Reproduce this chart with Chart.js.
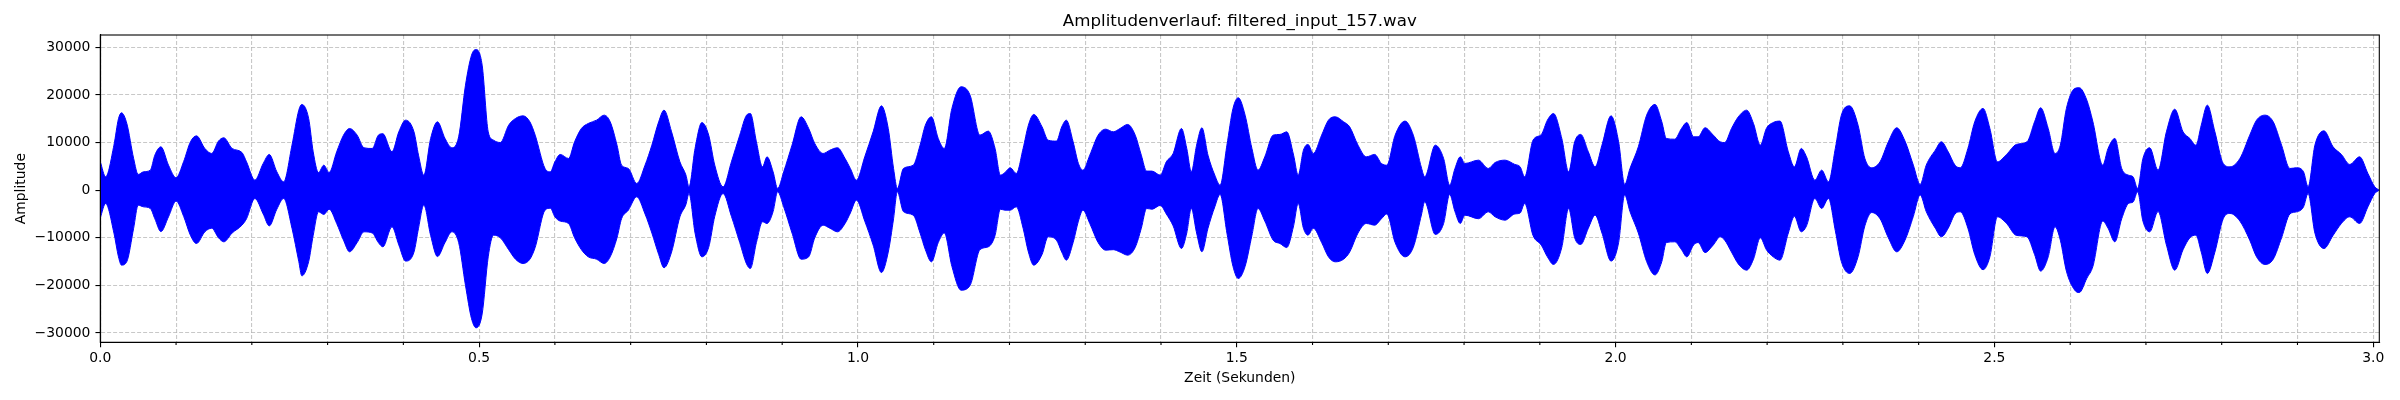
<!DOCTYPE html>
<html>
<head>
<meta charset="utf-8">
<title>Amplitudenverlauf</title>
<script src="https://cdn.jsdelivr.net/npm/chart.js@4.4.1/dist/chart.umd.min.js"></script>
<style>
  html, body { margin: 0; padding: 0; background: #fff; }
  #wrap { width: 2400px; height: 400px; }
</style>
</head>
<body>
<div id="wrap"><canvas id="wave" width="2400" height="400"></canvas></div>
<script>
// ================================================================ data
// envelope of the signal (seconds / amplitude)
const times = [
  0.000, 0.007, 0.018, 0.024, 0.028, 0.035, 0.044, 0.050, 0.057, 0.066,
  0.072, 0.080, 0.090, 0.100, 0.110, 0.119, 0.127, 0.138, 0.147, 0.156,
  0.163, 0.174, 0.187, 0.193, 0.204, 0.215, 0.223, 0.233, 0.242, 0.253,
  0.262, 0.266, 0.275, 0.281, 0.288, 0.295, 0.302, 0.312, 0.321, 0.329,
  0.339, 0.348, 0.359, 0.367, 0.373, 0.385, 0.394, 0.403, 0.414, 0.420,
  0.427, 0.436, 0.445, 0.455, 0.464, 0.473, 0.482, 0.490, 0.496, 0.504,
  0.512, 0.519, 0.528, 0.539, 0.548, 0.558, 0.567, 0.574, 0.587, 0.594,
  // 0.6 - 1.2
  0.600, 0.607, 0.618, 0.626, 0.635, 0.644, 0.655, 0.665, 0.673, 0.682,
  0.688, 0.697, 0.708, 0.719, 0.728, 0.737, 0.744, 0.754, 0.765, 0.773,
  0.777, 0.785, 0.794, 0.803, 0.811, 0.822, 0.833, 0.844, 0.853, 0.858,
  0.866, 0.874, 0.880, 0.888, 0.894, 0.902, 0.913, 0.925, 0.935, 0.943,
  0.954, 0.963, 0.973, 0.983, 0.990, 0.998, 1.009, 1.020, 1.031, 1.040,
  1.047, 1.052, 1.060, 1.073, 1.082, 1.089, 1.097, 1.106, 1.114, 1.124,
  1.136, 1.148, 1.161, 1.172, 1.181, 1.188, 1.194,
  // 1.2 - 1.8
  1.201, 1.209, 1.218, 1.225, 1.232, 1.243, 1.251, 1.262, 1.269, 1.275,
  1.284, 1.291, 1.297, 1.306, 1.317, 1.327, 1.337, 1.346, 1.356, 1.366,
  1.374, 1.381, 1.388, 1.399, 1.407, 1.416, 1.427, 1.434, 1.440, 1.447,
  1.454, 1.462, 1.471, 1.478, 1.487, 1.495, 1.502, 1.511, 1.520, 1.528,
  1.537, 1.548, 1.557, 1.566, 1.575, 1.581, 1.588, 1.594, 1.601, 1.612,
  1.621, 1.630, 1.641, 1.649, 1.660, 1.671, 1.682, 1.691, 1.698, 1.709,
  1.722, 1.733, 1.744, 1.748, 1.762, 1.773, 1.781, 1.788, 1.795,
  // 1.8 - 2.4
  1.801, 1.819, 1.832, 1.841, 1.854, 1.867, 1.874, 1.880, 1.891, 1.902,
  1.910, 1.918, 1.929, 1.938, 1.946, 1.954, 1.964, 1.973, 1.982, 1.994,
  2.004, 2.012, 2.019, 2.030, 2.041, 2.052, 2.061, 2.067, 2.078, 2.087,
  2.094, 2.103, 2.109, 2.118, 2.129, 2.138, 2.144, 2.153, 2.162, 2.173,
  2.182, 2.191, 2.199, 2.208, 2.217, 2.228, 2.236, 2.245, 2.252, 2.263,
  2.272, 2.281, 2.290, 2.298, 2.309, 2.320, 2.329, 2.338, 2.349, 2.360,
  2.371, 2.382, 2.393, 2.402,
  // 2.4 - end
  2.410, 2.422, 2.430, 2.439, 2.448, 2.455, 2.465, 2.474, 2.485, 2.494,
  2.504, 2.516, 2.529, 2.543, 2.553, 2.561, 2.571, 2.580, 2.587, 2.595,
  2.606, 2.612, 2.622, 2.630, 2.643, 2.650, 2.659, 2.668, 2.677, 2.683,
  2.689, 2.696, 2.705, 2.716, 2.727, 2.738, 2.749, 2.758, 2.766, 2.773,
  2.781, 2.791, 2.802, 2.811, 2.824, 2.837, 2.846, 2.857, 2.868, 2.879,
  2.890, 2.899, 2.908, 2.914, 2.923, 2.935, 2.947, 2.958, 2.969, 2.982,
  2.993, 3.002, 3.008
];

const upper = [
  5950, 2800, 9450, 15000, 16240, 14000, 6650, 3300, 3850, 4200,
  7350, 9100, 5250, 2600, 6000, 10150, 11400, 8750, 7700, 10300,
  11000, 8750, 7900, 5950, 2100, 5600, 7500, 3850, 1750, 9450,
  16800, 18000, 15050, 8050, 3700, 5250, 3700, 8050, 11550, 12950,
  11550, 8900, 8750, 11550, 11850, 8050, 12250, 14700, 12250, 7350,
  3150, 10850, 14350, 10850, 8900, 11200, 22050, 28350, 29550, 26250,
  12250, 10500, 10000, 13650, 15050, 15600, 14350, 11550, 4550, 3850,
  // 0.6 - 1.2
  5950, 7500, 6650, 10150, 12950, 14000, 14700, 15750, 14350, 9450,
  5250, 4550, 1400, 5250, 9450, 14350, 16800, 12250, 5950, 3150,
  700, 8750, 14200, 11550, 5250, 700, 5950, 11550, 15750, 16100,
  10150, 4900, 7000, 3850, 350, 3850, 9450, 15400, 12950, 9800,
  7700, 8400, 8900, 6650, 4550, 2100, 7000, 12250, 17700, 12950,
  4550, 350, 4550, 5250, 9450, 13650, 15400, 10850, 8750, 17150,
  21700, 19950, 11550, 12400, 8750, 3150, 3700,
  // 1.2 - 1.8
  4700, 3500, 8750, 13650, 15900, 13300, 10500, 10300, 13300, 14700,
  10150, 5600, 4200, 7350, 11550, 12800, 12250, 12950, 13800, 11550,
  7350, 4000, 4000, 3150, 5950, 7700, 12950, 8750, 3850, 9450,
  13100, 7350, 3150, 1050, 9450, 17150, 19400, 15750, 8750, 4200,
  7000, 11550, 11700, 12250, 7350, 3150, 8400, 9600, 7700, 11550,
  14700, 15400, 14350, 13300, 9450, 7000, 7500, 5600, 5250, 11550,
  14500, 11550, 4550, 2800, 9450, 6650, 1050, 4550, 7000,
  // 1.8 - 2.4
  5600, 6300, 4550, 5800, 6300, 5400, 4900, 2800, 10500, 11700,
  14700, 16100, 10850, 3850, 10150, 11700, 8050, 4900, 9450, 15600,
  10150, 1200, 4550, 9100, 15750, 18000, 14350, 10850, 10700, 12950,
  14200, 11200, 11200, 13100, 11550, 10150, 10000, 12950, 15400, 16800,
  14000, 9450, 12950, 14200, 14500, 8050, 4900, 8750, 7000, 2100,
  4200, 1750, 8750, 15750, 17700, 13650, 6650, 4700, 5950, 10150,
  13100, 10300, 5250, 1200,
  // 2.4 - end
  5250, 8400, 10150, 8050, 5250, 4700, 8750, 14350, 17150, 12950,
  5950, 7500, 9600, 10150, 14350, 17300, 12950, 7700, 9450, 17150,
  21350, 21500, 18900, 14350, 5250, 8750, 10850, 4550, 3150, 2800,
  350, 6650, 8900, 4200, 12250, 17000, 12250, 10850, 9450, 13650,
  17850, 12250, 5600, 4900, 6650, 11550, 14700, 15750, 14350, 9450,
  4550, 4700, 3850, 700, 9450, 12450, 9100, 7500, 5400, 7000,
  3500, 700, 0
];

const lower = [
  -5800, -2800, -9000, -14000, -15750, -15000, -8000, -3150, -3500, -3850,
  -6000, -8700, -5600, -2300, -5500, -9500, -11200, -8750, -8000, -10000,
  -10850, -9000, -7350, -6000, -1750, -5000, -7500, -4000, -1750, -8000,
  -15000, -18000, -15000, -9500, -4550, -5100, -4000, -7000, -10500, -12950,
  -11000, -8750, -9000, -11000, -11900, -7700, -11500, -14900, -13000, -8000,
  -3100, -9500, -13950, -11000, -8750, -11000, -20000, -27000, -28900, -26000,
  -14000, -9450, -10000, -12500, -14500, -15400, -14500, -12000, -4200, -3800,
  // 0.6 - 1.2
  -5600, -6500, -7000, -10000, -12500, -14000, -14500, -15400, -14000, -10000,
  -6000, -4200, -1400, -5000, -9000, -13500, -16300, -13000, -5600, -3000,
  -700, -9000, -14000, -12000, -5500, -700, -5500, -11000, -15500, -16450,
  -11000, -6650, -7000, -4500, -350, -3500, -9000, -14500, -14000, -10000,
  -7350, -8000, -8750, -7000, -4800, -2100, -6500, -11500, -17300, -13000,
  -6000, -350, -4500, -5250, -9000, -12500, -15050, -11000, -9000, -16000,
  -21000, -20000, -12500, -11900, -9500, -4000, -4200,
  // 1.2 - 1.8
  -4200, -3500, -8000, -13000, -15750, -13500, -9800, -10500, -13000, -14700,
  -11000, -6500, -4200, -7000, -11000, -12600, -12500, -13000, -13650, -12000,
  -8000, -3850, -4000, -3200, -5000, -7500, -12250, -9000, -3850, -9000,
  -12950, -8000, -3500, -900, -9000, -16000, -18550, -16000, -9500, -3850,
  -6500, -10500, -11200, -12050, -7500, -2800, -8000, -9450, -8000, -11000,
  -14000, -15050, -14500, -13000, -9000, -7000, -7350, -6000, -5000, -11000,
  -14000, -12000, -5000, -2450, -9300, -7000, -900, -4500, -7000,
  // 1.8 - 2.4
  -5250, -6000, -4550, -5600, -6300, -5000, -4800, -2800, -9500, -11550,
  -14000, -15600, -12000, -3850, -10000, -11400, -8000, -5250, -9000, -14900,
  -11000, -1000, -4500, -9000, -15000, -17800, -15000, -11000, -10850, -12500,
  -14000, -11500, -11000, -13100, -11500, -9800, -10500, -13000, -15500, -16800,
  -14500, -10000, -12500, -14000, -14700, -9000, -5500, -8750, -7500, -1750,
  -3850, -1750, -8500, -15000, -17500, -14000, -7500, -4700, -6000, -10000,
  -12950, -10500, -5500, -1000,
  // 2.4 - end
  -4500, -8000, -9800, -8000, -5000, -4550, -8000, -13500, -16700, -14000,
  -5600, -7000, -9500, -9800, -13500, -17000, -14000, -7700, -10500, -17000,
  -21000, -21500, -18500, -16000, -6500, -8000, -10850, -6000, -2800, -2500,
  -350, -6500, -8750, -4500, -11500, -16800, -12500, -10000, -9450, -13000,
  -17500, -13000, -6000, -4900, -6500, -10500, -14000, -15600, -14500, -10000,
  -5000, -4550, -3500, -700, -9000, -12250, -9500, -7000, -5600, -7000,
  -3500, -700, 0
];

// labelled x ticks (the rest of the 0.1 ticks are minor)
const xMajorTicks = [0.0, 0.5, 1.0, 1.5, 2.0, 2.5, 3.0];
const yTicks = [-30000, -20000, -10000, 0, 10000, 20000, 30000];

const chartTitle = 'Amplitudenverlauf: filtered_input_157.wav';
const xTitle = 'Zeit (Sekunden)';
const yTitle = 'Amplitude';

// ================================================================ styling
const FONT = 'DejaVu Sans';
const BLUE = '#0000ff';
const GRID = 'rgba(176, 176, 176, 0.7)';

const isMajor = v => xMajorTicks.some(m => Math.abs(m - v) < 1e-6);
const toPoints = ys => times.map((t, i) => ({ x: t, y: ys[i] }));

// matplotlib style box round the axes + short minor ticks
const axesFrame = {
  id: 'axesFrame',
  afterDraw(chart) {
    const { ctx, chartArea: a, scales: { x } } = chart;
    ctx.save();
    ctx.strokeStyle = '#000';
    ctx.lineWidth = 1.1;
    ctx.beginPath();
    x.ticks.forEach(t => {
      if (isMajor(t.value)) return;
      const px = x.getPixelForValue(t.value);
      ctx.moveTo(px, a.bottom);
      ctx.lineTo(px, a.bottom + 2.8);
    });
    ctx.stroke();
    ctx.strokeRect(a.left, a.top, a.right - a.left, a.bottom - a.top);
    ctx.restore();
  }
};

let waveChart = new Chart(document.getElementById('wave'), {
  type: 'line',
  data: {
    datasets: [{
      label: 'oben',
      data: toPoints(upper),
      borderColor: BLUE,
      backgroundColor: BLUE,
      borderWidth: 1,
      pointRadius: 0,
      cubicInterpolationMode: 'monotone',
      fill: '+1'
    }, {
      label: 'unten',
      data: toPoints(lower),
      borderColor: BLUE,
      backgroundColor: BLUE,
      borderWidth: 1,
      pointRadius: 0,
      cubicInterpolationMode: 'monotone',
      fill: false
    }]
  },
  options: {
    responsive: false,
    devicePixelRatio: 1,
    animation: false,
    events: [],
    layout: { padding: { left: 0, right: 20.7, top: 0, bottom: 0 } },
    plugins: {
      legend: { display: false },
      tooltip: { enabled: false },
      title: {
        display: true,
        text: chartTitle,
        fullSize: false,
        color: '#000',
        font: { family: FONT, size: 16.67, weight: 'normal' },
        padding: { top: 12, bottom: 3 }
      }
    },
    scales: {
      x: {
        type: 'linear',
        min: 0,
        max: 3.008,
        afterFit(s) { s.height = 57.7; },
        ticks: {
          stepSize: 0.1,
          includeBounds: false,
          autoSkip: false,
          maxRotation: 0,
          padding: 2.7,
          color: '#000',
          font: { family: FONT, size: 13.9 },
          callback: v => isMajor(v) ? v.toFixed(1) : ''
        },
        grid: {
          color: GRID,
          lineWidth: 1.1,
          tickLength: 4.86,
          tickWidth: 1.1,
          tickColor: c => (c.tick && isMajor(c.tick.value)) ? '#000' : 'rgba(0,0,0,0)'
        },
        border: { display: true, color: '#000', width: 1.1, dash: [4, 2] },
        title: {
          display: true,
          text: xTitle,
          color: '#000',
          font: { family: FONT, size: 13.9 },
          padding: { top: 0, bottom: 13.2 }
        }
      },
      y: {
        type: 'linear',
        min: -31950,
        max: 32580,
        afterFit(s) { s.width = 100.3; },
        // fixed tick list (stepSize + min/max would be re-spaced by Chart.js)
        afterBuildTicks(s) { s.ticks = yTicks.map(v => ({ value: v })); },
        ticks: {
          padding: 5,
          color: '#000',
          font: { family: FONT, size: 13.9 },
          callback: v => v < 0 ? '\u2212' + Math.abs(v) : String(v)
        },
        grid: {
          color: GRID,
          lineWidth: 1.1,
          tickLength: 4.86,
          tickWidth: 1.1,
          tickColor: '#000'
        },
        border: { display: true, color: '#000', width: 1.1, dash: [4, 2] },
        title: {
          display: true,
          text: yTitle,
          color: '#000',
          font: { family: FONT, size: 13.9 },
          padding: { top: 12.7, bottom: 0 }
        }
      }
    }
  },
  plugins: [axesFrame]
});
</script>
</body>
</html>
